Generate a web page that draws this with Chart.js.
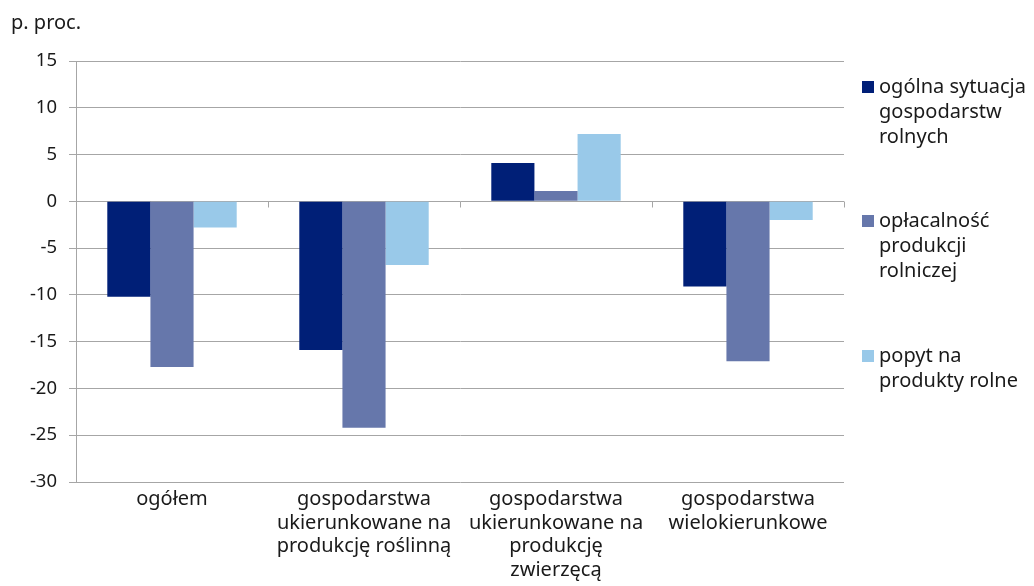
<!DOCTYPE html>
<html>
<head>
<meta charset="utf-8">
<script src="https://cdn.jsdelivr.net/npm/chart.js@4/dist/chart.umd.min.js"></script>
<style>
  html, body { margin: 0; padding: 0; background: #fff; }
  #wrap { width: 1034px; height: 586px; position: relative; }
</style>
</head>
<body>
<div id="wrap"><canvas id="wykres"></canvas></div>
<script>
// kategorie (osi X) - linie podpisu
const kategorie = [
  ["ogółem"],
  ["gospodarstwa", "ukierunkowane na", "produkcję roślinną"],
  ["gospodarstwa", "ukierunkowane na", "produkcję", "zwierzęcą"],
  ["gospodarstwa", "wielokierunkowe"]
];
const nazwySerii = [
  ["ogólna sytuacja", "gospodarstw", "rolnych"],
  ["opłacalność", "produkcji", "rolniczej"],
  ["popyt na", "produkty rolne"]
];
const ogolnaSytuacja = [-10.2, -15.9, 4.1, -9.1];
const oplacalnosc = [-17.7, -24.2, 1.1, -17.1];
const popyt = [-2.8, -6.8, 7.2, -2.0];
const osY = { min: -30, max: 15, krok: 5 };
const jednostka = "p. proc.";

const kolory = ["#001f77", "#6677ab", "#99c9e9"];
const font = '"Noto Sans", sans-serif';

// napis "p. proc.", legenda po prawej, znaczniki na linii zera
const dodatki = {
  id: "dodatki",
  afterDraw(chart) {
    const ctx = chart.ctx;
    const y = chart.scales.y;
    const x = chart.scales.x;
    ctx.save();
    ctx.fillStyle = "#1a1a1a";
    ctx.font = "20px " + font;
    ctx.textBaseline = "middle";
    ctx.fillText(jednostka, 11, 23);

    // znaczniki kategorii na osi zero
    const y0 = Math.round(y.getPixelForValue(0)) + 0.5;
    ctx.strokeStyle = "#a6a6a6";
    ctx.lineWidth = 1;
    const szer = (x.right - x.left) / kategorie.length;
    for (let i = 0; i <= kategorie.length; i++) {
      const px = Math.round(x.left + i * szer) + 0.5;
      ctx.beginPath();
      ctx.moveTo(px, y0);
      ctx.lineTo(px, y0 + 6);
      ctx.stroke();
    }

    // legenda
    const startY = [87, 221, 356];
    chart.data.datasets.forEach((ds, i) => {
      ctx.fillStyle = ds.backgroundColor;
      ctx.fillRect(862, startY[i] - 6, 12, 12);
      ctx.fillStyle = "#1a1a1a";
      nazwySerii[i].forEach((linia, j) => {
        ctx.fillText(linia, 879, startY[i] + j * 25);
      });
    });
    ctx.restore();
  }
};

new Chart("wykres", {
  type: "bar",
  data: {
    labels: kategorie,
    datasets: [
      { label: nazwySerii[0].join(" "), data: ogolnaSytuacja, backgroundColor: kolory[0] },
      { label: nazwySerii[1].join(" "), data: oplacalnosc, backgroundColor: kolory[1] },
      { label: nazwySerii[2].join(" "), data: popyt, backgroundColor: kolory[2] }
    ]
  },
  options: {
    responsive: true,
    maintainAspectRatio: false,
    animation: false,
    layout: { padding: { left: 0, top: 61, right: 190, bottom: 0 } },
    datasets: { bar: { barPercentage: 1, categoryPercentage: 0.674, borderWidth: 0 } },
    plugins: {
      legend: { display: false },
      tooltip: { enabled: false }
    },
    scales: {
      x: {
        grid: { display: false, drawTicks: false },
        border: { display: false },
        ticks: {
          color: "#1a1a1a",
          padding: 6,
          maxRotation: 0,
          minRotation: 0,
          autoSkip: false,
          font: { family: font, size: 20, lineHeight: 1.175 }
        },
        afterFit(scale) { scale.height = 586 - 482; }
      },
      y: {
        min: osY.min,
        max: osY.max,
        grid: { color: "#a6a6a6", tickLength: 7, tickColor: "#a6a6a6" },
        border: { color: "#a6a6a6" },
        ticks: {
          stepSize: osY.krok,
          color: "#1a1a1a",
          padding: 12,
          font: { family: font, size: 18.5 }
        },
        afterFit(scale) { scale.width = 76; }
      }
    }
  },
  plugins: [dodatki]
});
</script>
</body>
</html>
